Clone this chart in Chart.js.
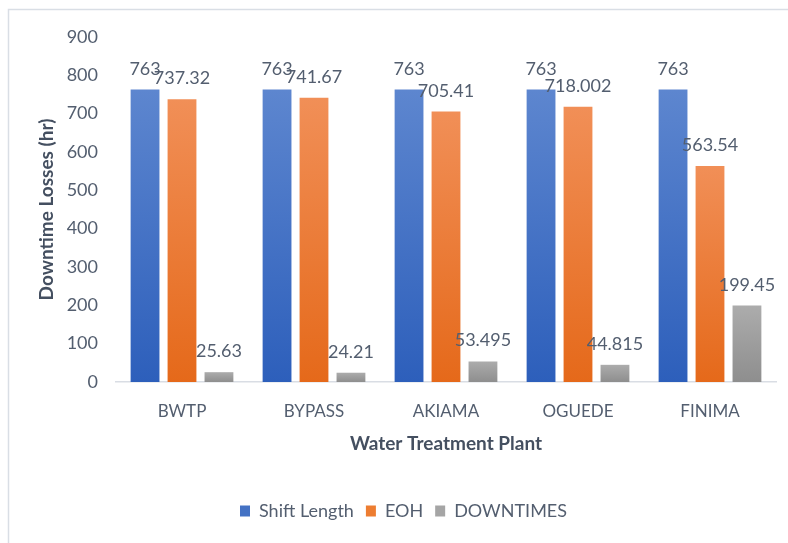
<!DOCTYPE html>
<html>
<head>
<meta charset="utf-8">
<script src="https://cdn.jsdelivr.net/npm/chart.js@4/dist/chart.umd.min.js"></script>
<style>
  html, body { margin: 0; padding: 0; background: #ffffff; }
  #wrap { width: 788px; height: 543px; position: relative; }
</style>
</head>
<body>
<div id="wrap"><canvas id="chart" width="788" height="543"></canvas></div>
<script>
// Plant names along the x axis
const categories = ['BWTP', 'BYPASS', 'AKIAMA', 'OGUEDE', 'FINIMA'];

// Hours per plant for each series
const shiftLength = [763, 763, 763, 763, 763];
const eoh = [737.32, 741.67, 705.41, 718.002, 563.54];
const downtimes = [25.63, 24.21, 53.495, 44.815, 199.45];

// Value axis range
const yMin = 0;
const yMax = 900;
const yStep = 100;

const TEXT = '#535e6f';
const TITLE = '#444f60';
const FONT = 'Lato, "Open Sans", "Liberation Sans", sans-serif';

// Vertical shading for each bar, light at the top and deeper at the base
function barGradient(top, bottom) {
  return function (ctx) {
    const chart = ctx.chart;
    const area = chart.chartArea;
    const y = chart.scales && chart.scales.y;
    if (!area || !y || ctx.type !== 'data') return top;
    const yTop = y.getPixelForValue(ctx.raw);
    const yBase = y.getPixelForValue(0);
    if (!isFinite(yTop) || !isFinite(yBase) || yTop === yBase) return top;
    const g = chart.ctx.createLinearGradient(0, yTop, 0, yBase);
    g.addColorStop(0, top);
    g.addColorStop(1, bottom);
    return g;
  };
}

// Thin frame around the chart
const framePlugin = {
  id: 'frame',
  beforeDraw(chart) {
    const c = chart.ctx;
    c.save();
    c.fillStyle = '#ffffff';
    c.fillRect(0, 0, chart.width, chart.height);
    c.strokeStyle = '#d9dee5';
    c.lineWidth = 1.5;
    c.strokeRect(8.5, 9.5, chart.width + 20, chart.height + 20);
    c.restore();
  }
};

// Value labels above every bar
const valueLabelPlugin = {
  id: 'valueLabels',
  afterDatasetsDraw(chart) {
    const c = chart.ctx;
    c.save();
    c.font = '18px ' + FONT;
    c.fillStyle = TEXT;
    c.textAlign = 'center';
    c.textBaseline = 'alphabetic';
    chart.data.datasets.forEach((ds, di) => {
      const meta = chart.getDatasetMeta(di);
      if (meta.hidden) return;
      meta.data.forEach((el, i) => {
        c.fillText(String(ds.data[i]), el.x, el.y - 15);
      });
    });
    c.restore();
  }
};

const legendColors = ['#4472c4', '#ed7d31', '#a5a5a5'];

new Chart(document.getElementById('chart'), {
  type: 'bar',
  data: {
    labels: categories,
    datasets: [
      { label: 'Shift Length', data: shiftLength, backgroundColor: barGradient('#5d86cf', '#2d5fbb') },
      { label: 'EOH', data: eoh, backgroundColor: barGradient('#f18f57', '#e5691a') },
      { label: 'DOWNTIMES', data: downtimes, backgroundColor: barGradient('#acacac', '#8e8e8e') }
    ]
  },
  options: {
    responsive: false,
    animation: false,
    devicePixelRatio: 1,
    layout: { padding: { left: 31, right: 12, top: 37, bottom: 13 } },
    datasets: {
      bar: { categoryPercentage: 0.84, barPercentage: 0.78 }
    },
    scales: {
      x: {
        grid: { display: false, drawTicks: false },
        border: { display: true, color: '#d9dde4', width: 1.5 },
        ticks: { color: TEXT, font: { size: 17, family: FONT }, padding: 19 },
        title: {
          display: true,
          text: 'Water Treatment Plant',
          color: TITLE,
          font: { size: 19, weight: 'bold', family: FONT },
          padding: { top: 0, bottom: 35 }
        },
        afterFit(s) { s.height = 108; }
      },
      y: {
        min: yMin,
        max: yMax,
        grid: { display: false, drawTicks: false },
        border: { display: false },
        ticks: { stepSize: yStep, color: TEXT, font: { size: 18, family: FONT }, padding: 18 },
        title: {
          display: true,
          text: 'Downtime Losses (hr)',
          color: TITLE,
          font: { size: 19, weight: 'bold', family: FONT },
          padding: { top: 4, bottom: 0 }
        },
        afterFit(s) { s.width = 85; }
      }
    },
    plugins: {
      legend: {
        position: 'bottom',
        labels: {
          color: TEXT,
          font: { size: 18, family: FONT },
          boxWidth: 10,
          boxHeight: 11,
          padding: 12,
          generateLabels(chart) {
            return chart.data.datasets.map((ds, i) => ({
              text: ds.label,
              fillStyle: legendColors[i],
              strokeStyle: legendColors[i],
              lineWidth: 0,
              hidden: false,
              datasetIndex: i,
              fontColor: TEXT
            }));
          }
        }
      },
      tooltip: { enabled: false }
    }
  },
  plugins: [framePlugin, valueLabelPlugin]
});
</script>
</body>
</html>
